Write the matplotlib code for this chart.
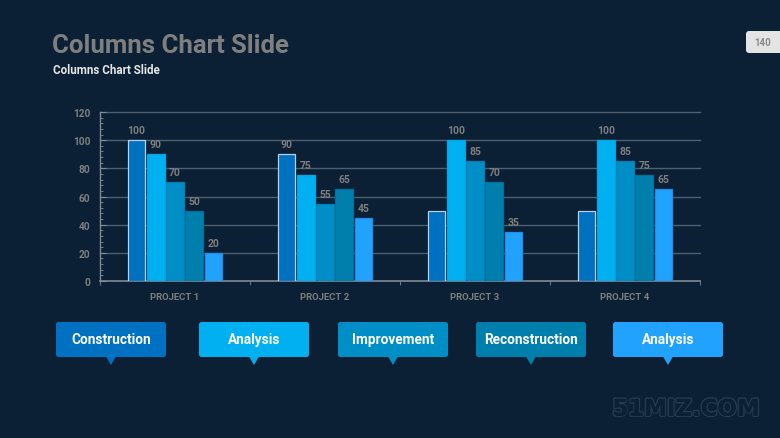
import matplotlib
matplotlib.use("Agg")
import matplotlib.pyplot as plt
import numpy as np
from matplotlib.patches import FancyBboxPatch, Polygon
import matplotlib.patheffects as pe

plt.rcParams['font.family'] = ['Roboto', 'DejaVu Sans']

# ---- data ----
categories = ["PROJECT 1", "PROJECT 2", "PROJECT 3", "PROJECT 4"]
series_names = ["Construction", "Analysis", "Improvement", "Reconstruction", "Analysis"]
s1 = [100, 90, 50, 50]
s2 = [90, 75, 100, 100]
s3 = [70, 55, 85, 85]
s4 = [50, 65, 70, 75]
s5 = [20, 45, 35, 65]
s1_labels = ["100", "90", "", ""]
yticks = [0, 20, 40, 60, 80, 100, 120]
title = "Columns Chart Slide"
subtitle = "Columns Chart Slide"
page_no = "140"
watermark = "51MIZ.COM"

series = [s1, s2, s3, s4, s5]
colors = ["#0070c0", "#00b0f0", "#008ec6", "#007fad", "#21a2ff"]
edges = ["#b7cfe2", "#00a6e6", "#0080b6", "#00719c", "#1a8ff0"]
BG = "#0b2034"
GRAY = "#7f7f7f"

W, H = 780, 439
fig = plt.figure(figsize=(W / 100, H / 100), dpi=100, facecolor=BG)

# ---- chart axes ----
ax = fig.add_axes([100 / W, 1 - 282 / H, 600 / W, 169 / H])
ax.set_facecolor(BG)
x = np.arange(len(categories))
step, bw = 0.128, 0.118
for i, vals in enumerate(series):
    xs = x + (i - 2) * step
    ax.bar(xs, vals, width=bw, color=colors[i], edgecolor=edges[i], linewidth=0.9, zorder=3)
    labels = s1_labels if i == 0 else [str(v) for v in vals]
    for xi, v, lab in zip(xs, vals, labels):
        if lab:
            ax.annotate(lab, (xi, v), xytext=(0, 10), textcoords="offset pixels",
                        ha="center", va="center", fontsize=7.5, fontweight="bold", color=GRAY, zorder=4)

ax.set_xlim(-0.5, len(categories) - 0.5)
ax.set_ylim(0, 120)
ax.set_yticks(yticks)
ax.set_yticklabels([str(t) for t in yticks])
ax.set_yticks(np.arange(0, 121, 4), minor=True)
for t in yticks[1:]:
    ax.axhline(t, color="#4f5f6d", lw=1.0, zorder=1, clip_on=False)
ax.set_xticks(x)
ax.set_xticklabels(categories)
ax.set_xticks(np.arange(-0.5, len(categories)), minor=True)
ax.tick_params(axis="x", which="major", length=0, pad=8, labelsize=6.8, labelcolor=GRAY)
ax.tick_params(axis="x", which="minor", length=3, color="#7f8a94", direction="out")
ax.tick_params(axis="y", which="major", length=4, color="#7f8a94", direction="in", pad=7,
               labelsize=7.3, labelcolor=GRAY)
ax.tick_params(axis="y", which="minor", length=2.5, color="#7f8a94", direction="in")
for lbl in ax.get_xticklabels() + ax.get_yticklabels():
    lbl.set_fontweight("bold")
for s in ["top", "right"]:
    ax.spines[s].set_visible(False)
ax.spines["left"].set_color("#7f8a94")
ax.spines["bottom"].set_color("#7f8a94")
ax.spines["left"].set_linewidth(1.0)
ax.spines["bottom"].set_linewidth(1.2)

# ---- overlay in pixel coords ----
ov = fig.add_axes([0, 0, 1, 1], facecolor="none")
ov.set_xlim(0, W)
ov.set_ylim(H, 0)
ov.axis("off")

ov.text(52, 46, title, fontsize=18.5, fontweight="bold", color=GRAY, ha="left", va="center")
ov.text(53, 70, subtitle, fontsize=8.4, fontweight="bold", color="#e6e6e6", ha="left", va="center")

ov.add_patch(FancyBboxPatch((746, 32), 40, 22, boxstyle="round,pad=0,rounding_size=3",
                            fc="#e4e4e4", ec="none"))
ov.text(763, 43, page_no, fontsize=7, fontweight="bold", color="#8a8a8a", ha="center", va="center")

box_x = [56, 199, 338, 476, 613]
bwid, top, bot = 110, 323, 358
for bx, name, c in zip(box_x, series_names, colors):
    ov.add_patch(FancyBboxPatch((bx, top), bwid, bot - top, boxstyle="round,pad=0,rounding_size=2.5",
                                fc=c, ec="none"))
    cx = bx + bwid / 2
    ov.add_patch(Polygon([(cx - 5, bot - 0.5), (cx + 5, bot - 0.5), (cx, 366)], closed=True, fc=c, ec="none"))
    ov.text(cx, 340, name, fontsize=9.8, fontweight="bold", color="white", ha="center", va="center")

wm_kw = dict(fontsize=16.5, fontweight="bold", family="DejaVu Sans", color=BG, ha="center", va="center")
ov.text(686, 410, watermark, path_effects=[pe.withStroke(linewidth=2.0, foreground="#253b4f")], **wm_kw)
ov.text(686, 410, watermark, **wm_kw)

fig.savefig("out.png", dpi=100, facecolor=BG)
